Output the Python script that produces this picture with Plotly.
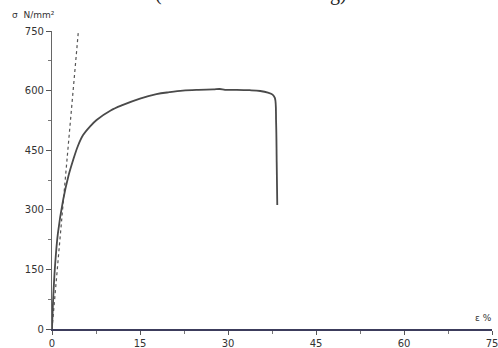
import plotly.graph_objects as go

# Stress-strain curve (strain %, stress N/mm²)
strain = [0, 0.2, 0.5, 1.0, 1.9, 2.8, 3.6, 4.4, 5.3, 6.5, 7.6, 10.0, 12.1, 15.0, 17.8, 20.0, 22.3, 25.0, 27.5, 28.6, 29.5, 31.5, 33.7, 35.5, 36.8, 37.6, 38.0, 38.2, 38.3, 38.4]
stress = [0, 75, 155, 240, 325, 385, 425, 460, 488, 510, 526, 550, 564, 580, 591, 596, 600, 602, 603, 604, 602, 602, 601, 599, 595, 590, 581, 520, 420, 312]

# Dotted elastic (modulus) line
line_strain = [0, 4.5]
line_stress = [0, 750]

x_ticks = [0, 15, 30, 45, 60, 75]
y_ticks = [0, 150, 300, 450, 600, 750]

fig = go.Figure()
fig.add_trace(go.Scatter(x=line_strain, y=line_stress, mode="lines",
                         line=dict(color="#555555", width=1.2, dash="dot"),
                         showlegend=False, hoverinfo="skip", cliponaxis=False))
fig.add_trace(go.Scatter(x=strain, y=stress, mode="lines",
                         line=dict(color="#4a4a4a", width=1.8, shape="spline", smoothing=1.0),
                         showlegend=False, cliponaxis=False))

# Plot area spans page x 52..492, y 31..329
W, H = 498, 348
ML, MR, MT, MB = 52, 6, 31, 19
PW = W - ML - MR
PH = H - MT - MB

def px(x):
    return (x - ML) / PW

def py(y):
    return (H - MB - y) / PH

axis_font = dict(family="DejaVu Sans", size=10, color="#333333")
fig.update_layout(
    width=W, height=H,
    margin=dict(l=ML, r=MR, t=MT, b=MB),
    paper_bgcolor="white", plot_bgcolor="white",
    xaxis=dict(range=[0, 75], tickvals=x_ticks, ticktext=[str(v) for v in x_ticks],
               showgrid=False, zeroline=False, showline=True, linecolor="#3c3c5c", linewidth=1.5,
               ticks="outside", ticklen=4, tickcolor="#555555", tickfont=axis_font,
               ticklabeloverflow="allow",
               minor=dict(tickvals=[7.5, 22.5, 37.5, 52.5, 67.5], ticks="outside", ticklen=3, tickcolor="#777777"),
               automargin=False, fixedrange=True),
    yaxis=dict(range=[0, 750], tickvals=y_ticks, ticktext=[str(v) for v in y_ticks],
               showgrid=False, zeroline=False, showline=True, linecolor="#666666", linewidth=1.2,
               ticks="outside", ticklen=5, tickcolor="#555555", tickfont=axis_font,
               ticklabeloverflow="allow",
               minor=dict(tickvals=[75, 225, 375, 525, 675], ticks="outside", ticklen=3, tickcolor="#777777"),
               automargin=False, fixedrange=True),
    annotations=[
        dict(text="σ  N/mm²", xref="paper", yref="paper", x=px(10), y=py(15),
             xanchor="left", yanchor="middle", showarrow=False,
             font=dict(family="DejaVu Sans", size=9, color="#333333")),
        dict(text="ε %", xref="paper", yref="paper", x=px(473), y=py(318),
             xanchor="left", yanchor="middle", showarrow=False,
             font=dict(family="DejaVu Sans", size=9, color="#333333")),
        dict(text="(", xref="paper", yref="paper", x=px(153), y=py(-6),
             xanchor="left", yanchor="middle", showarrow=False,
             font=dict(family="Liberation Serif", size=20, color="#222222")),
        dict(text="ng)", xref="paper", yref="paper", x=px(318), y=py(-6),
             xanchor="left", yanchor="middle", showarrow=False,
             font=dict(family="Liberation Serif", size=20, color="#222222")),
    ],
)

fig.write_html("out.html", config={"displayModeBar": False},
               post_script="document.body.style.margin='0';document.body.style.overflow='hidden';")
